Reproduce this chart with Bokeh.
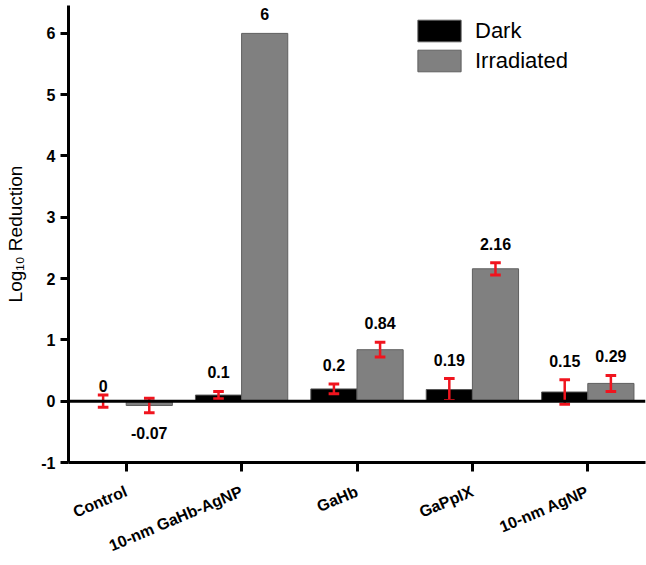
import math
from bokeh.plotting import figure
from bokeh.models import ColumnDataSource, FactorRange, FixedTicker, Span
from bokeh.transform import dodge
from bokeh.core.properties import value
from bokeh.embed import file_html
from bokeh.resources import INLINE

# ---- data ----
categories = ["Control", "10-nm GaHb-AgNP", "GaHb", "GaPpIX", "10-nm AgNP"]
dark = [0, 0.1, 0.2, 0.19, 0.15]
dark_err = [0.1, 0.06, 0.08, 0.18, 0.2]
irradiated = [-0.07, 6, 0.84, 2.16, 0.29]
irradiated_err = [0.12, 0, 0.12, 0.1, 0.13]
y_ticks = [-1, 0, 1, 2, 3, 4, 5, 6]

FONT = "Liberation Sans"
RED = "#f0141e"

p = figure(x_range=FactorRange(factors=categories), y_range=(-1, 6.455),
           width=646, height=565, output_backend="svg", toolbar_location=None,
           min_border_left=68, min_border_right=1, min_border_top=5,
           min_border_bottom=103)
p.xgrid.grid_line_color = None
p.ygrid.grid_line_color = None
p.outline_line_color = None
p.background_fill_color = "white"

for ax in (p.xaxis[0], p.yaxis[0]):
    ax.axis_line_width = 3
    ax.axis_line_color = "black"
    ax.major_tick_line_width = 3
    ax.major_tick_line_color = "black"
    ax.major_tick_in = 0
    ax.minor_tick_line_color = None
    ax.major_label_text_font = FONT
    ax.major_label_text_font_style = "bold"
    ax.major_label_text_font_size = "16px"
    ax.major_label_text_color = "black"

p.yaxis.ticker = FixedTicker(ticks=y_ticks)
p.yaxis.major_label_overrides = {t: "{:g}".format(t) for t in y_ticks}
p.yaxis.major_tick_out = 8
p.yaxis.major_label_standoff = 5
p.yaxis.axis_label = "Log\u2081\u2080 Reduction"
p.yaxis.axis_label_text_font = FONT
p.yaxis.axis_label_text_font_style = "normal"
p.yaxis.axis_label_text_font_size = "19px"
p.yaxis.axis_label_text_color = "black"
p.yaxis.axis_label_standoff = 12

p.xaxis.major_tick_out = 9
p.xaxis.major_label_standoff = 19
p.xaxis.major_label_orientation = math.radians(23)

src = ColumnDataSource(dict(cat=categories, dark=dark, irr=irradiated))
p.vbar(x=dodge("cat", -0.2, range=p.x_range), top="dark", bottom=0, width=0.4,
       source=src, fill_color="black", line_color="#555555", line_width=1,
       legend_label="Dark")
p.vbar(x=dodge("cat", 0.2, range=p.x_range), top="irr", bottom=0, width=0.4,
       source=src, fill_color="#808080", line_color="#5f5f5f", line_width=1,
       legend_label="Irradiated")

cap = 0.046
for vals, errs, off in ((dark, dark_err, -0.2), (irradiated, irradiated_err, 0.2)):
    cats = [c for c, e in zip(categories, errs) if e > 0]
    lo = [v - e for v, e in zip(vals, errs) if e > 0]
    hi = [v + e for v, e in zip(vals, errs) if e > 0]
    es = ColumnDataSource(dict(cat=cats, lo=lo, hi=hi))
    p.segment(x0=dodge("cat", off, range=p.x_range), x1=dodge("cat", off, range=p.x_range),
              y0="lo", y1="hi", source=es, line_color=RED, line_width=2.5)
    for col in ("lo", "hi"):
        p.segment(x0=dodge("cat", off - cap, range=p.x_range),
                  x1=dodge("cat", off + cap, range=p.x_range),
                  y0=col, y1=col, source=es, line_color=RED, line_width=3)

    ly, yoff = [], []
    for v, e in zip(vals, errs):
        if v == 0:
            ly.append(v); yoff.append(-15)
        elif v > 0:
            ly.append(v + e); yoff.append(-19)
        else:
            ly.append(v - e); yoff.append(20)
    txt = ["{:g}".format(v) for v in vals]
    ls = ColumnDataSource(dict(cat=categories, y=ly, yoff=yoff, txt=txt))
    p.text(x=dodge("cat", off, range=p.x_range), y="y", text="txt", y_offset="yoff",
           source=ls, text_font=value(FONT), text_font_style="bold",
           text_font_size="16px", text_align="center", text_baseline="middle",
           text_color="black")

p.add_layout(Span(location=0, dimension="width", line_color="black", line_width=3))

lg = p.legend[0]
lg.location = (344, 388)
lg.padding = 0
lg.margin = 0
lg.spacing = 3
lg.glyph_width = 54
lg.glyph_height = 27
lg.label_height = 27
lg.label_standoff = 9
lg.label_text_font = FONT
lg.label_text_font_size = "22px"
lg.label_text_color = "black"
lg.border_line_color = None
lg.background_fill_alpha = 0

open("out.html", "w").write(file_html(p, INLINE))
